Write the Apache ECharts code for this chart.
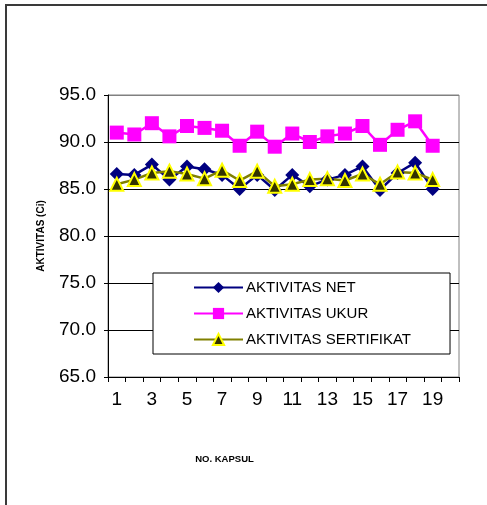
<!DOCTYPE html>
<html>
<head>
<meta charset="utf-8">
<script src="https://cdn.jsdelivr.net/npm/echarts@6/dist/echarts.min.js"></script>
<style>
html,body{margin:0;padding:0;background:#fff;}
#c{width:487px;height:505px;}
</style>
</head>
<body>
<div id="c"></div>
<script>
var categories = ['1','2','3','4','5','6','7','8','9','10','11','12','13','14','15','16','17','18','19','20'];
var aktivitasNet = [86.6, 86.5, 87.6, 86.0, 87.4, 87.1, 86.5, 85.0, 86.5, 84.9, 86.5, 85.3, 86.0, 86.5, 87.4, 84.9, 86.7, 87.8, 85.0];
var aktivitasUkur = [91.0, 90.8, 92.0, 90.6, 91.7, 91.5, 91.2, 89.6, 91.1, 89.5, 90.9, 90.0, 90.6, 90.9, 91.7, 89.7, 91.3, 92.2, 89.6];
var aktivitasSertifikat = [85.5, 86.0, 86.7, 86.9, 86.6, 86.1, 87.0, 85.9, 86.9, 85.3, 85.5, 86.0, 86.1, 85.9, 86.6, 85.5, 86.8, 86.7, 86.0];
var seriesNames = ['AKTIVITAS NET', 'AKTIVITAS UKUR', 'AKTIVITAS SERTIFIKAT'];
var yTicks = {min: 65, max: 95, interval: 5};

var chart = echarts.init(document.getElementById('c'), null, {renderer: 'canvas'});
var font = 'Liberation Sans, Arial, sans-serif';
chart.setOption({
  animation: false,
  backgroundColor: '#fff',
  textStyle: {fontFamily: font},
  graphic: [{
    type: 'rect', z: 100, silent: true,
    shape: {x: 6, y: 5, width: 700, height: 700},
    style: {fill: 'none', stroke: '#3a3a3a', lineWidth: 2}
  }],
  grid: {left: 108, top: 95, width: 351, height: 282, show: true, borderColor: '#808080', borderWidth: 1, containLabel: false},
  legend: {
    orient: 'vertical',
    left: 153, top: 273,
    padding: [7, 39, 7, 40],
    itemWidth: 49, itemHeight: 14, itemGap: 11,
    backgroundColor: '#fff',
    borderColor: '#000', borderWidth: 1,
    textStyle: {fontFamily: font, fontSize: 15, color: '#000', lineHeight: 14, padding: [0,0,0,-2]},
    data: seriesNames
  },
  xAxis: {
    type: 'category',
    data: categories,
    boundaryGap: true,
    name: 'NO. KAPSUL',
    nameLocation: 'middle',
    nameGap: 77,
    nameTextStyle: {fontFamily: font, fontSize: 9.5, fontWeight: 'bold', color: '#000', padding: [0, 118, 0, 0]},
    axisLine: {lineStyle: {color: '#000', width: 1}},
    axisTick: {show: true, interval: 0, length: 5, lineStyle: {color: '#000'}},
    axisLabel: {interval: 1, fontFamily: font, fontSize: 19, color: '#000', margin: 13},
    splitLine: {show: false}
  },
  yAxis: {
    type: 'value',
    min: yTicks.min, max: yTicks.max, interval: yTicks.interval,
    name: 'AKTIVITAS (Ci)',
    nameLocation: 'middle',
    nameGap: 62,
    nameRotate: 90,
    nameTextStyle: {fontFamily: font, fontSize: 10, fontWeight: 'bold', color: '#000'},
    axisLine: {show: true, lineStyle: {color: '#000', width: 1}},
    axisTick: {show: true, length: 4, lineStyle: {color: '#000'}},
    axisLabel: {fontFamily: font, fontSize: 19, color: '#000', margin: 12,
      formatter: function (v) { return v.toFixed(1); }},
    splitLine: {show: true, lineStyle: {color: ['#000', '#000', '#000', '#000', '#000', '#000', '#808080'], width: 1}}
  },
  series: [
    {
      name: seriesNames[0], type: 'line', data: aktivitasNet,
      symbol: 'diamond', symbolSize: 14, showAllSymbol: true,
      lineStyle: {color: '#000080', width: 2.5},
      itemStyle: {color: '#000080'}
    },
    {
      name: seriesNames[1], type: 'line', data: aktivitasUkur,
      symbol: 'rect', symbolSize: 14, showAllSymbol: true,
      lineStyle: {color: '#FF00FF', width: 2.5},
      itemStyle: {color: '#FF00FF'}
    },
    {
      name: seriesNames[2], type: 'line', data: aktivitasSertifikat,
      symbol: 'triangle', symbolSize: 13, showAllSymbol: true,
      lineStyle: {color: '#808000', width: 2.5},
      itemStyle: {color: '#333300', borderColor: '#FFFF00', borderWidth: 2}
    }
  ]
});
</script>
</body>
</html>
